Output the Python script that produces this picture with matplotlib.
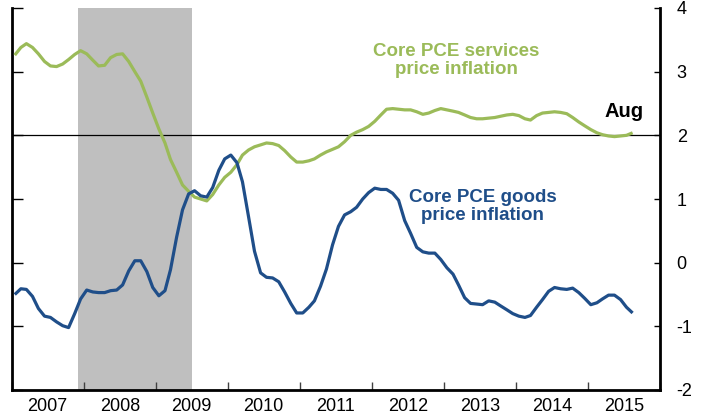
import matplotlib
import matplotlib.pyplot as plt
import matplotlib.dates as mdates
import numpy as np
import pandas as pd

matplotlib.use("Agg")

plt.rcParams["font.family"] = ["Liberation Sans", "DejaVu Sans"]
plt.rcParams["axes.unicode_minus"] = False

# Monthly data, Jan 2007 - Aug 2015 (12-month % change)
months = pd.date_range("2007-01-01", "2015-08-01", freq="MS") + pd.Timedelta(days=14)

services = [
    3.26, 3.38, 3.44, 3.38, 3.28, 3.16, 3.09, 3.08, 3.12, 3.19, 3.27, 3.33,
    3.28, 3.18, 3.09, 3.10, 3.22, 3.27, 3.28, 3.16, 3.00, 2.85, 2.60, 2.35,
    2.10, 1.88, 1.62, 1.42, 1.22, 1.12, 1.03, 1.00, 0.97, 1.07, 1.22, 1.34,
    1.42, 1.54, 1.69, 1.77, 1.82, 1.85, 1.88, 1.87, 1.84, 1.76, 1.66, 1.58,
    1.58, 1.60, 1.63, 1.69, 1.74, 1.78, 1.82, 1.90, 2.00, 2.05, 2.09, 2.14,
    2.22, 2.32, 2.41, 2.42, 2.41, 2.40, 2.40, 2.37, 2.33, 2.35, 2.39, 2.42,
    2.40, 2.38, 2.36, 2.32, 2.28, 2.26, 2.26, 2.27, 2.28, 2.30, 2.32, 2.33,
    2.31, 2.26, 2.24, 2.31, 2.35, 2.36, 2.37, 2.36, 2.34, 2.28, 2.21, 2.15,
    2.09, 2.04, 2.01, 1.99, 1.98, 1.99, 2.00, 2.04,
]

goods = [
    -0.50, -0.41, -0.42, -0.53, -0.72, -0.84, -0.86, -0.93, -0.99, -1.02, -0.80, -0.57,
    -0.43, -0.46, -0.47, -0.47, -0.44, -0.43, -0.35, -0.13, 0.03, 0.03, -0.14, -0.39,
    -0.52, -0.44, -0.11, 0.40, 0.83, 1.08, 1.13, 1.05, 1.03, 1.18, 1.45, 1.63,
    1.69, 1.57, 1.27, 0.72, 0.18, -0.16, -0.23, -0.24, -0.30, -0.46, -0.64, -0.79,
    -0.79, -0.70, -0.60, -0.37, -0.10, 0.28, 0.57, 0.75, 0.80, 0.87, 1.00, 1.10,
    1.17, 1.15, 1.15, 1.09, 0.98, 0.66, 0.46, 0.24, 0.17, 0.15, 0.15, 0.05,
    -0.08, -0.18, -0.35, -0.55, -0.64, -0.65, -0.66, -0.60, -0.62, -0.68, -0.74, -0.80,
    -0.84, -0.86, -0.83, -0.70, -0.58, -0.45, -0.39, -0.41, -0.42, -0.40, -0.47, -0.56,
    -0.66, -0.63, -0.57, -0.51, -0.51, -0.58, -0.70, -0.79,
]

recession = ("2007-12-01", "2009-07-01")

green = "#9BBB59"
blue = "#1F4E89"

fig = plt.figure(figsize=(7.07, 4.17), dpi=100)
ax = fig.add_axes([12 / 707, 27 / 417, 648 / 707, 382 / 417])

# recession shading
ax.axvspan(pd.Timestamp(recession[0]), pd.Timestamp(recession[1]),
           color="#BFBFBF", lw=0, zorder=0)

ax.axhline(2, color="black", lw=0.9, zorder=1)

ax.plot(months, services, color=green, lw=2.3, zorder=3, solid_capstyle="butt")
ax.plot(months, goods, color=blue, lw=2.3, zorder=3, solid_capstyle="butt")

ax.set_xlim(pd.Timestamp("2007-01-01"), pd.Timestamp("2016-01-01"))
ax.set_ylim(-2, 4)

# spines
ax.spines["top"].set_visible(False)
for s in ["left", "right", "bottom"]:
    ax.spines[s].set_linewidth(2)
    ax.spines[s].set_color("black")

# y ticks on the right, tick marks on both sides
ax.yaxis.tick_right()
ax.set_yticks([-2, -1, 0, 1, 2, 3, 4])
ax.tick_params(axis="y", which="major", direction="in", length=4, width=1,
               color="black", labelsize=13, pad=12, left=True, right=True,
               labelleft=False, labelright=True)

# x: year boundary ticks, labels at mid-year
ax.xaxis.set_major_locator(mdates.YearLocator())
ax.xaxis.set_major_formatter(plt.NullFormatter())
ax.xaxis.set_minor_locator(mdates.MonthLocator(bymonth=7))
ax.xaxis.set_minor_formatter(mdates.DateFormatter("%Y"))
ax.tick_params(axis="x", which="major", direction="in", length=6, width=1,
               color="#404040")
ax.tick_params(axis="x", which="minor", length=0, labelsize=13, pad=6)

# left tick marks are longer and grey
for t in ax.yaxis.get_major_ticks():
    t.tick1line.set_markersize(8)
    t.tick1line.set_color("#606060")

ax.text(pd.Timestamp("2013-03-05"), 3.17, "Core PCE services\nprice inflation",
        color=green, fontsize=13.5, fontweight="bold", ha="center", va="center",
        linespacing=1.1)
ax.text(pd.Timestamp("2013-07-15"), 0.88, "Core PCE goods\nprice inflation",
        color=blue, fontsize=13.5, fontweight="bold", ha="center", va="center",
        linespacing=1.1)
ax.text(pd.Timestamp("2015-07-01"), 2.37, "Aug", color="black", fontsize=14.5,
        fontweight="bold", ha="center", va="center")

fig.savefig("out.png", dpi=100)
